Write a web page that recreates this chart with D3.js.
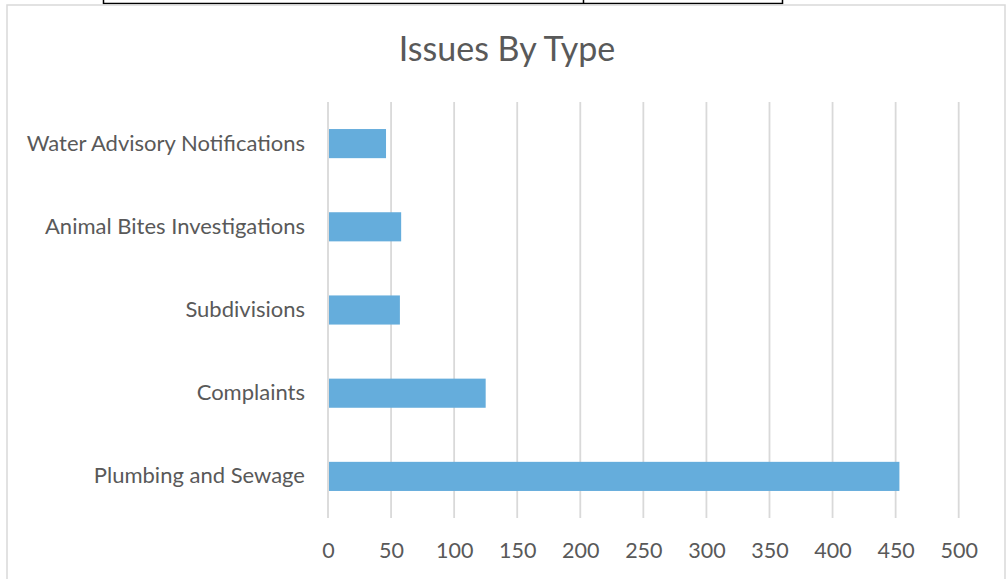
<!DOCTYPE html>
<html><head><meta charset="utf-8">
<script src="https://cdn.jsdelivr.net/npm/d3@7"></script>
<style>html,body{margin:0;padding:0;background:#fff;}svg{display:block;}</style>
</head><body>
<svg id="chart" width="1007" height="579"></svg>
<script>
const categories = ["Water Advisory Notifications","Animal Bites Investigations","Subdivisions","Complaints","Plumbing and Sewage"];
const values = [46, 58, 57, 125, 453];
const xTicks = [0,50,100,150,200,250,300,350,400,450,500];
const title = "Issues By Type";

const svg = d3.select("#chart");
const font = "Lato, sans-serif";

// table fragment at top
svg.append("path").attr("d","M103.5,0V3.5H782.5V0M583.5,0V3.5").attr("fill","none").attr("stroke","#000").attr("stroke-width",1.5);
// chart border
svg.append("rect").attr("x",7).attr("y",5).attr("width",998).attr("height",590)
  .attr("fill","#fff").attr("stroke","#d9d9d9").attr("stroke-width",1.5);

const x = d3.scaleLinear().domain([0,500]).range([328,958.7]);
const y = d3.scaleBand().domain(categories).range([102,518]).paddingInner(0.65).paddingOuter(0.325);

// gridlines
svg.append("g").selectAll("line").data(xTicks).join("line")
  .attr("x1",d=>x(d)).attr("x2",d=>x(d)).attr("y1",102).attr("y2",518)
  .attr("stroke","#d9d9d9").attr("stroke-width",1.8);

// bars
svg.append("g").selectAll("rect").data(values).join("rect")
  .attr("x",x(0)+1).attr("y",(d,i)=>y(categories[i]))
  .attr("width",d=>x(d)-x(0)-1).attr("height",y.bandwidth())
  .attr("fill","#65addc");

// x axis labels
const xa = svg.append("g").attr("transform","translate(0,543)")
  .call(d3.axisBottom(x).tickValues(xTicks).tickSize(0).tickPadding(0));
xa.select(".domain").remove();
xa.selectAll("text").attr("font-family",font).attr("font-size",21.5).attr("fill","#595959").attr("dy","0.71em");

// y axis labels
const ya = svg.append("g").attr("transform","translate(305,0)")
  .call(d3.axisLeft(y).tickSize(0).tickPadding(0));
ya.select(".domain").remove();
ya.selectAll("text").attr("font-family",font).attr("font-size",22).attr("fill","#595959");

svg.append("text").attr("x",507).attr("y",61).attr("text-anchor","middle")
  .attr("font-family",font).attr("font-size",34).attr("fill","#595959").text(title);
</script>
</body></html>
